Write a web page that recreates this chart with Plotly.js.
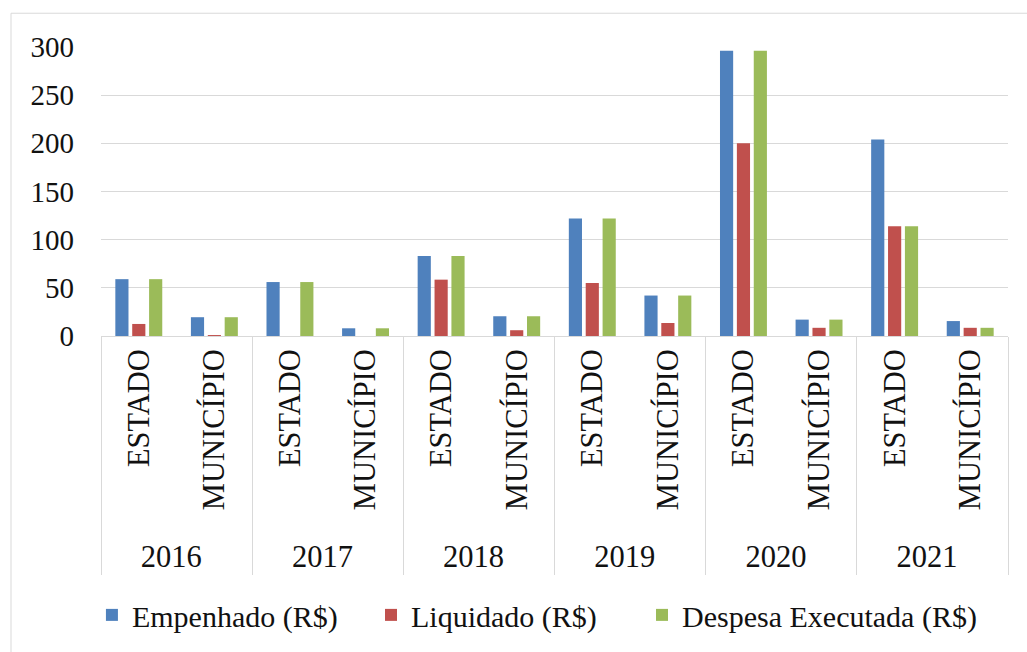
<!DOCTYPE html>
<html>
<head>
<meta charset="utf-8">
<script src="https://cdn.plot.ly/plotly-3.0.1.min.js"></script>
<style>html,body{margin:0;padding:0;background:#fff;}#chart{width:1027px;height:652px;}</style>
</head>
<body>
<div id="chart"></div>
<script>
var years = ["2016","2016","2017","2017","2018","2018","2019","2019","2020","2020","2021","2021"];
var spheres = ["ESTADO","MUNICÍPIO","ESTADO","MUNICÍPIO","ESTADO","MUNICÍPIO","ESTADO","MUNICÍPIO","ESTADO","MUNICÍPIO","ESTADO","MUNICÍPIO"];
var empenhado = [59, 19.5, 56, 8, 83, 20.5, 122, 42, 296, 17, 204, 15.5];
var liquidado = [12.5, 1, 0, 0, 58.5, 6, 55, 13.5, 200, 8.5, 114, 8.5];
var despesa   = [59, 19.5, 56, 8, 83, 20.5, 122, 42, 296, 17, 114, 8.5];
var seriesNames = ["Empenhado (R$)", "Liquidado (R$)", "Despesa Executada (R$)"];
var yTicks = [0, 50, 100, 150, 200, 250, 300];

var colors = ["#4F81BD", "#C0504D", "#9BBB59"];
var legendIds = ["legend", "legend2", "legend3"];
var vals = [empenhado, liquidado, despesa];
var traces = vals.map(function(v, i){
  return {type:"bar", x:[years, spheres], y:v, name:seriesNames[i], legend:legendIds[i],
          marker:{color:colors[i]}, hoverinfo:"y"};
});
var fam = "Liberation Serif";
var font = {family:fam, size:30, color:"#111"};
function leg(x){
  return {orientation:"h", x:x, xanchor:"left", y:-0.965, yanchor:"middle",
          font:{family:fam, size:30, color:"#111"}, itemwidth:30, bgcolor:"rgba(0,0,0,0)"};
}
var layout = {
  width:1027, height:652,
  margin:{l:101, r:19, t:47, b:314},
  paper_bgcolor:"#fff", plot_bgcolor:"#fff",
  font:font,
  barmode:"group", bargap:0.33, bargroupgap:0.22,
  showlegend:true,
  legend:leg(-0.01), legend2:leg(0.2977), legend3:leg(0.5965),
  xaxis:{type:"multicategory", tickangle:-90, showline:true, linecolor:"#d9d9d9", linewidth:1,
         showdividers:true, dividercolor:"#d9d9d9", dividerwidth:1, ticks:"",
         tickfont:{family:fam, size:30.5, color:"#111"}},
  yaxis:{range:[0,300], tickvals:yTicks, ticktext:yTicks.map(String), showgrid:true, gridcolor:"#d9d9d9",
         zeroline:false, showline:false, ticks:"", ticklabelstandoff:26,
         tickfont:{family:fam, size:29, color:"#111"}},
  shapes:[{type:"rect", xref:"paper", yref:"paper",
           x0:(11-101)/907, x1:(1040-101)/907, y0:(338-670)/291, y1:(338-13)/291,
           line:{color:"#d9d9d9", width:1}, fillcolor:"rgba(0,0,0,0)", layer:"below"}]
};
Plotly.newPlot("chart", traces, layout, {displayModeBar:false, staticPlot:true});
</script>
</body>
</html>
